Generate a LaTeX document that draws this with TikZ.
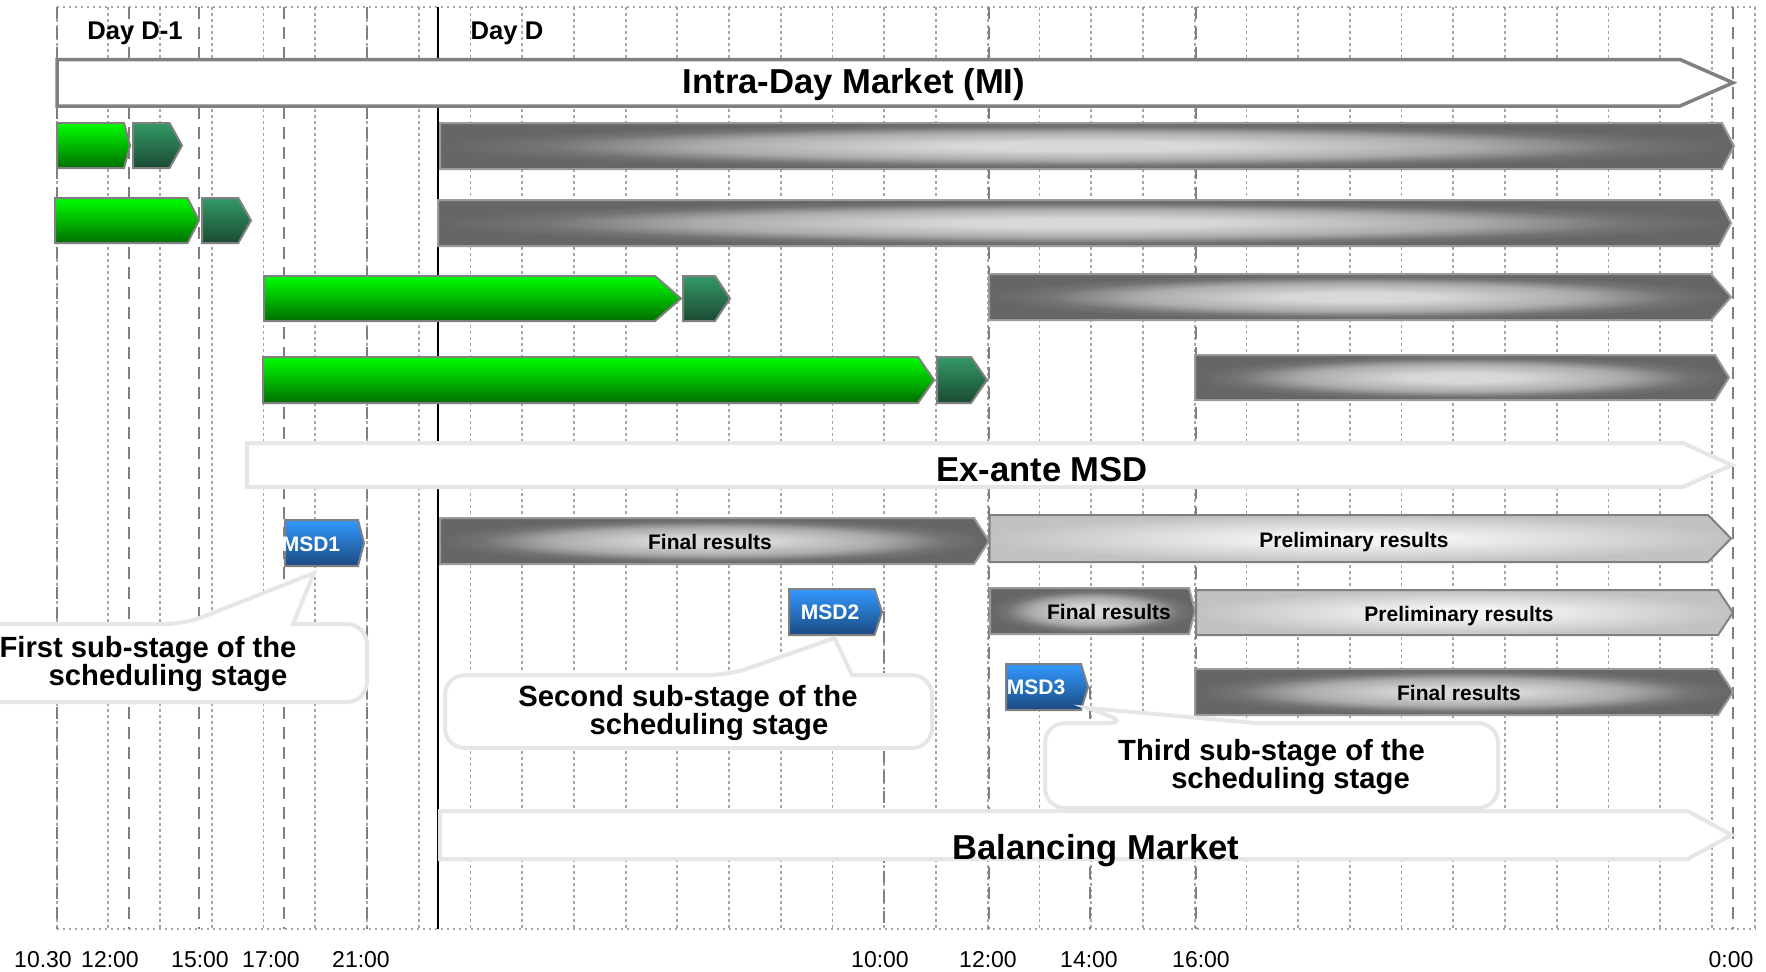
\documentclass[tikz,border=0pt]{standalone}
\usepackage{fontspec}
\setmainfont{Liberation Sans}
\usepackage{tikz}

\definecolor{lensout}{HTML}{666666}
\definecolor{lensdeep}{HTML}{747474}
\definecolor{lensmid}{HTML}{ABABAB}
\definecolor{lensin}{HTML}{D8D8D8}
\definecolor{prelout}{HTML}{C2C2C2}
\definecolor{prelin}{HTML}{F4F4F4}
\definecolor{limeup}{HTML}{00FF00}
\definecolor{limedown}{HTML}{006E00}
\definecolor{pineup}{HTML}{339966}
\definecolor{pinedown}{HTML}{1B4A33}
\definecolor{msdup}{HTML}{3399FF}
\definecolor{msddown}{HTML}{1A4A80}
\definecolor{edgegray}{HTML}{808080}
\definecolor{lensedge}{HTML}{9A9A9A}
\definecolor{softgray}{HTML}{E6E6E6}
\definecolor{dotgray}{HTML}{A6A6A6}

% the path box is the 50bp square round the centre
\pgfdeclareradialshading{graylens}{\pgfpointorigin}{color(0bp)=(lensin); color(5bp)=(lensin); color(15bp)=(lensmid); color(21bp)=(lensdeep); color(25bp)=(lensout); color(60bp)=(lensout)}
\pgfdeclareradialshading{prellens}{\pgfpointorigin}{color(0bp)=(prelin); color(5bp)=(prelin); color(25bp)=(prelout); color(60bp)=(prelout)}

% bar with a pointed right end: style, x1, y1, x2 (tip), y2, tip depth
\newcommand{\chevbar}[6]{\draw[#1] (#2,#3) -- ({#4-#6},#3) -- (#4,{(#3+#5)/2}) -- ({#4-#6},#5) -- (#2,#5) -- cycle;}

\tikzset{
  gridline/.style={dotgray, line width=0.9pt, dash pattern=on 1.4pt off 1.6pt},
  hourline/.style={edgegray, line width=1.1pt, dash pattern=on 6pt off 4pt},
  greenbar/.style={draw=edgegray, line width=1pt, top color=limeup, bottom color=limedown},
  pinebar/.style={draw=edgegray, line width=1pt, top color=pineup, bottom color=pinedown},
  msdbar/.style={draw=edgegray, line width=1pt, top color=msdup, bottom color=msddown},
  graybar/.style={draw=lensedge, line width=1pt, shading=graylens},
  prelbar/.style={draw=edgegray, line width=1pt, shading=prellens},
  mainbar/.style={draw=edgegray, fill=white, line width=1.75pt},
  marketbar/.style={draw=softgray, fill=white, line width=2pt},
  callout/.style={draw=softgray, fill=white, line width=2pt},
  bigtxt/.style={font=\fontsize{17.3}{20}\selectfont\bfseries},
  calltxt/.style={font=\fontsize{14.6}{14}\selectfont\bfseries, align=center},
  bartxt/.style={font=\fontsize{10.5}{12}\selectfont\bfseries},
  msdtxt/.style={font=\fontsize{10.5}{12}\selectfont\bfseries, text=white},
  daytxt/.style={font=\fontsize{12.8}{15}\selectfont\bfseries},
  hourtxt/.style={font=\fontsize{11.5}{13}\selectfont},
}

\begin{document}
\begin{tikzpicture}[x=0.5pt,y=-0.5pt]
  \useasboundingbox[fill=white] (0,0) rectangle (1766,971);
  \clip (0,0) rectangle (1766,971);

  % grid
  \foreach \k in {0,...,32}
    \draw[gridline] ({56.6+51.73*\k},7) -- ({56.6+51.73*\k},929);
  \draw[gridline] (1755,7) -- (1755,929);
  \draw[gridline] (56.6,7) -- (1755,7);
  \draw[gridline] (56.6,929) -- (1755,929);

  % hours
  \foreach \x in {56.6,129,198.6,284,367,989,1196,1733}
    \draw[hourline] (\x,7) -- (\x,929);
  \draw[hourline] (884,611) -- (884,929);
  \draw[hourline] (1090,687) -- (1090,929);
  \draw[black, line width=1pt] (438,7) -- (438,929);

  % MI
  \chevbar{mainbar}{57}{59.5}{1733}{106}{53}

  % sessions
  \chevbar{greenbar}{57}{123}{130}{168}{6}
  \chevbar{pinebar}{133}{123}{182}{168}{12.5}
  \chevbar{graybar}{440}{123}{1734}{169}{12}

  \chevbar{greenbar}{55}{198}{199}{243}{11.5}
  \chevbar{pinebar}{202}{198}{251}{243}{12.7}
  \chevbar{graybar}{438}{200}{1731}{246}{12}

  \chevbar{greenbar}{264}{276}{681}{321}{26}
  \chevbar{pinebar}{683}{276}{730}{321}{15}
  \chevbar{graybar}{989}{274}{1731}{320}{20}

  \chevbar{greenbar}{263}{357}{934}{403}{16}
  \chevbar{pinebar}{937}{357}{987}{403}{16}
  \chevbar{graybar}{1195}{355}{1729}{400}{14}

  % MSD
  \chevbar{marketbar}{247}{443}{1731.7}{487}{49}

  \chevbar{msdbar}{285}{520}{364}{566}{6}
  \chevbar{graybar}{440}{518}{989}{564}{15}
  \chevbar{prelbar}{989.5}{515}{1731}{562}{23}

  \chevbar{msdbar}{789}{589}{882}{635}{7.5}
  \chevbar{graybar}{990}{588}{1195}{634}{6}
  \chevbar{prelbar}{1196}{590}{1733}{635}{15}

  \chevbar{msdbar}{1006}{664}{1088}{710}{7}
  \chevbar{graybar}{1195}{669}{1733}{715}{15}

  % MB
  \chevbar{marketbar}{440}{811}{1731.6}{859}{44}

  % callouts
  \draw[callout] (185,624) -- (314,573) -- (293,624) [rounded corners=10] -- (367,624) -- (367,702) -- (-20,702) -- (-20,624) -- cycle;
  \draw[callout] (729,675) -- (834.5,638) -- (852,675) [rounded corners=10] -- (932,675) -- (932,748) -- (445,748) -- (445,675) -- cycle;
  \draw[callout] (1128,723) -- (1088,708) -- (1255,723) [rounded corners=10] -- (1498,723) -- (1498,808) -- (1045,808) -- (1045,723) -- cycle;

  % texts
  \node[daytxt] (dm1) at (135,33) {Day D-1};
  \node[daytxt] (dd) at (507,33) {Day D};
  \node[bigtxt] (mi) at (854,84.5) {Intra-Day Market (MI)};
  \node[bigtxt] (msd) at (1042,470) {Ex-ante MSD};
  \node[bigtxt] (mb) at (1096,850.5) {Balancing Market};

  \node[msdtxt] (msd1) at (311,544) {MSD1};
  \node[msdtxt] (msd2) at (830,612) {MSD2};
  \node[msdtxt] (msd3) at (1036,687) {MSD3};

  \node[bartxt] (fra) at (710,542) {Final results};
  \node[bartxt] (pra) at (1354,542) {Preliminary results};
  \node[bartxt] (frb) at (1109,612) {Final results};
  \node[bartxt] (prb) at (1459,616) {Preliminary results};
  \node[bartxt] (frc) at (1459,693) {Final results};

  \node[calltxt] (sub1) at (148,664) {First sub-stage of the\\\hspace*{20pt}scheduling stage};
  \node[calltxt] (sub2) at (688,713) {Second sub-stage of the\\\hspace*{21pt}scheduling stage};
  \node[calltxt] (sub3) at (1271.5,767) {Third sub-stage of the\\\hspace*{19pt}scheduling stage};

  \node[hourtxt] (h1) at (43,959.5) {10.30};
  \node[hourtxt] (h2) at (110,959.5) {12:00};
  \node[hourtxt] (h3) at (200,959.5) {15:00};
  \node[hourtxt] (h4) at (271,959.5) {17:00};
  \node[hourtxt] (h5) at (361,959.5) {21:00};
  \node[hourtxt] (h6) at (880,959.5) {10:00};
  \node[hourtxt] (h7) at (988,959.5) {12:00};
  \node[hourtxt] (h8) at (1089,959.5) {14:00};
  \node[hourtxt] (h9) at (1201,959.5) {16:00};
  \node[hourtxt] (h10) at (1731,959.5) {0:00};
\end{tikzpicture}
\end{document}
